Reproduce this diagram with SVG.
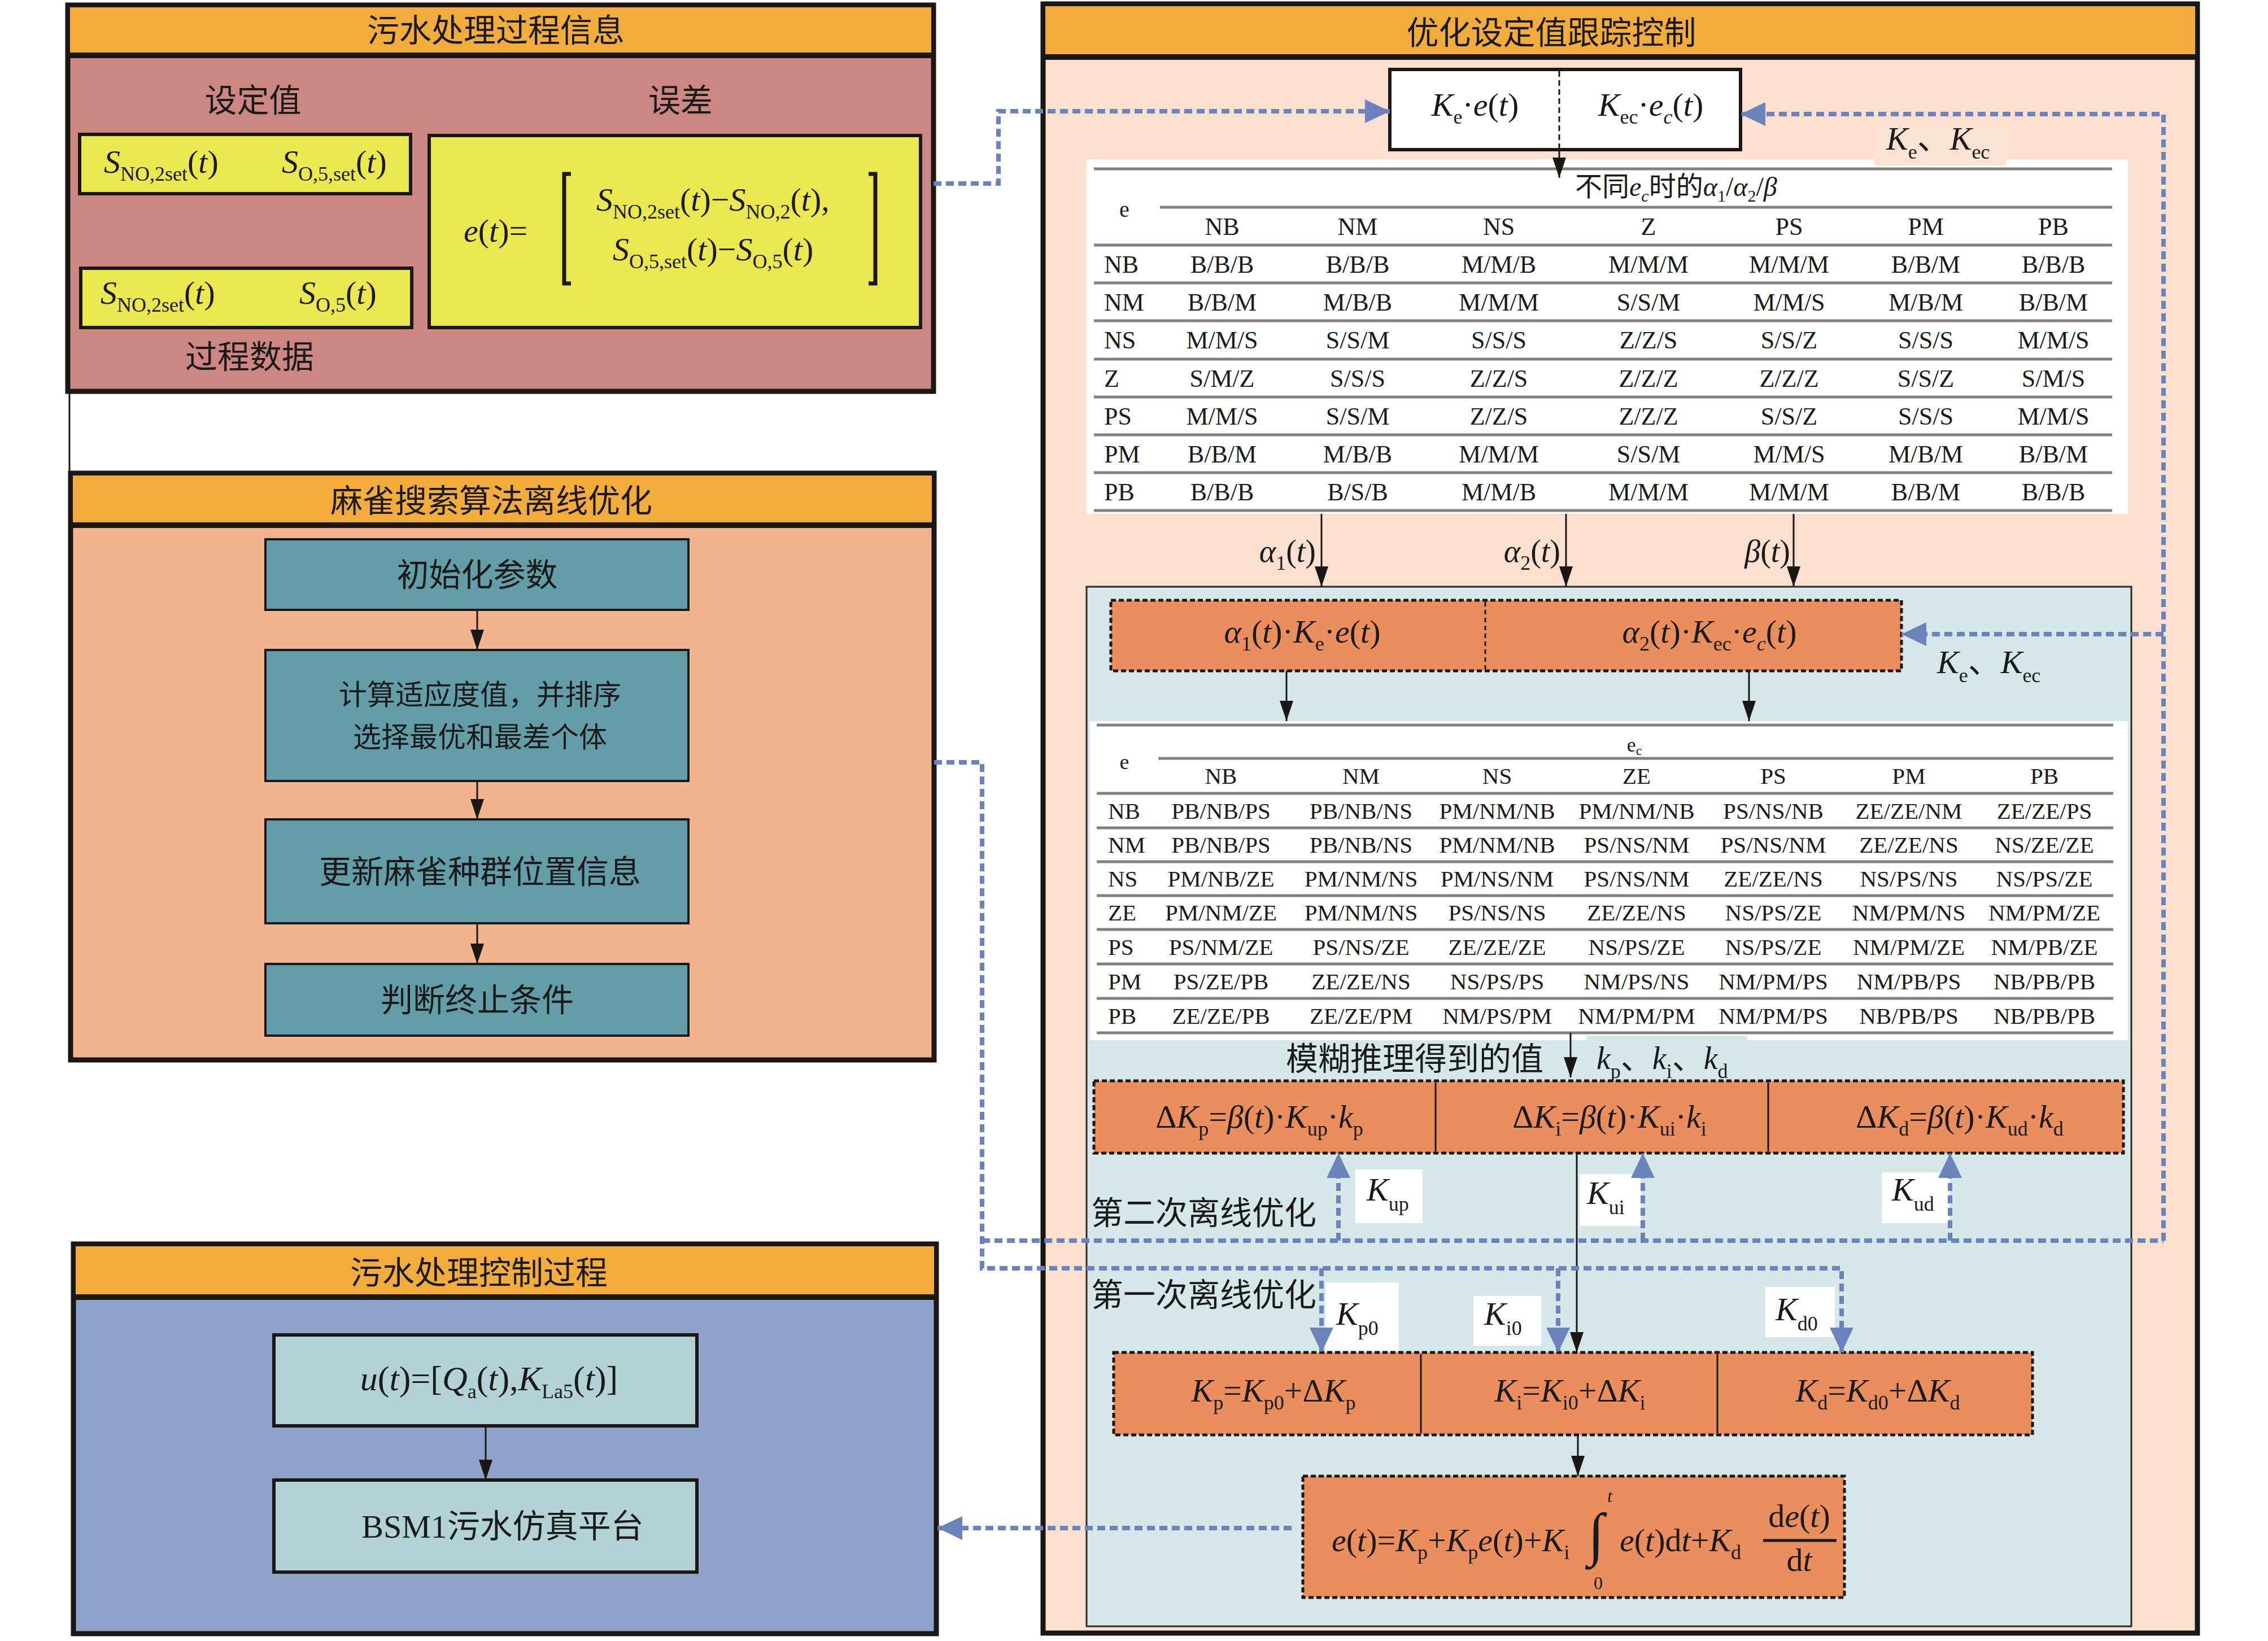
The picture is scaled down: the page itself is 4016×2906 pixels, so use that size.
<svg xmlns="http://www.w3.org/2000/svg" width="4016" height="2906" viewBox="0 0 4016 2906">
<defs>
<style>
.cn{font-family:"Noto Sans CJK SC","Noto Sans CJK JP",sans-serif;font-size:57px;fill:#1a1a1a}
.m{font-family:"Liberation Serif","Times New Roman",serif;font-size:58px;fill:#1a1a1a}
.i{font-style:italic}
.s{font-size:36px;font-style:normal}
.si{font-size:36px;font-style:italic}
.cj{font-family:"Noto Sans CJK SC","Noto Sans CJK JP",sans-serif}
.tb{font-family:"Liberation Serif","Times New Roman",serif;font-size:44px;fill:#1a1a1a;text-anchor:middle}
.tb2{font-family:"Liberation Serif","Times New Roman",serif;font-size:41px;fill:#1a1a1a;text-anchor:middle}
.rl{text-anchor:start}
.mid{text-anchor:middle}
.end{text-anchor:end}
.pan{stroke:#1a1715;stroke-width:9}
.hd{fill:#F2AC3C}
.band{stroke:#1a1715;stroke-width:10}
.yb{fill:#EBE84F;stroke:#1a1715;stroke-width:6}
.tl{fill:#629DA8;stroke:#1a1715;stroke-width:4}
.lt{fill:#B2D2D5;stroke:#1a1715;stroke-width:6}
.ob{fill:#E98E5C;stroke:#1a1715;stroke-width:5;stroke-dasharray:9 5}
.dv{stroke:#1a1715;stroke-width:3}
.gl{stroke:#857f7d;stroke-width:5}
.bl{fill:none;stroke:#6A83BD;stroke-width:8;stroke-dasharray:14 8}
.bla{marker-end:url(#bh)}
.ar{fill:none;stroke:#1a1715;stroke-width:3;marker-end:url(#ah)}
.ln{fill:none;stroke:#1a1715;stroke-width:3}
</style>
<marker id="ah" markerUnits="userSpaceOnUse" markerWidth="36" markerHeight="24" refX="36" refY="12" orient="auto" viewBox="0 0 36 24"><path d="M0,0 L36,12 L0,24 z" fill="#1a1715"/></marker>
<marker id="bh" markerUnits="userSpaceOnUse" markerWidth="44" markerHeight="42" refX="44" refY="21" orient="auto" viewBox="0 0 44 42"><path d="M0,0 L44,21 L0,42 z" fill="#6A83BD"/></marker>
</defs>
<rect x="0" y="0" width="4016" height="2906" fill="#ffffff"/>

<!-- Panel 1: process info -->
<g id="panel-info">
<rect x="120" y="9" width="1533" height="684" fill="#CD8783" class="pan"/>
<rect x="124" y="13" width="1525" height="82" class="hd"/>
<line x1="120" y1="98" x2="1653" y2="98" class="band"/>
<text x="878" y="74" class="cn mid">污水处理过程信息</text>
<text x="448" y="198" class="cn mid">设定值</text>
<text x="1205" y="198" class="cn mid">误差</text>
<text x="442" y="652" class="cn mid">过程数据</text>
</g>
<g id="setpoint">
<rect x="141" y="238" width="586" height="105" class="yb"/>
<text x="184" y="306" class="m"><tspan class="i">S</tspan><tspan class="s" dy="14">NO,2set</tspan><tspan dy="-14">(</tspan><tspan class="i">t</tspan>)</text>
<text x="499" y="306" class="m"><tspan class="i">S</tspan><tspan class="s" dy="14">O,5,set</tspan><tspan dy="-14">(</tspan><tspan class="i">t</tspan>)</text>
</g>
<g id="process-data">
<rect x="143" y="475" width="586" height="105" class="yb"/>
<text x="178" y="538" class="m"><tspan class="i">S</tspan><tspan class="s" dy="14">NO,2set</tspan><tspan dy="-14">(</tspan><tspan class="i">t</tspan>)</text>
<text x="530" y="538" class="m"><tspan class="i">S</tspan><tspan class="s" dy="14">O,5</tspan><tspan dy="-14">(</tspan><tspan class="i">t</tspan>)</text>
</g>
<g id="error">
<rect x="760" y="240" width="870" height="340" class="yb"/>
<text x="821" y="428" class="m"><tspan class="i">e</tspan>(<tspan class="i">t</tspan>)=</text>
<path d="M1011,308 H999 V502 H1011" fill="none" stroke="#1a1715" stroke-width="7"/>
<path d="M1538,308 H1550 V502 H1538" fill="none" stroke="#1a1715" stroke-width="7"/>
<text x="1056" y="373" class="m"><tspan class="i">S</tspan><tspan class="s" dy="14">NO,2set</tspan><tspan dy="-14">(</tspan><tspan class="i">t</tspan>)−<tspan class="i">S</tspan><tspan class="s" dy="14">NO,2</tspan><tspan dy="-14">(</tspan><tspan class="i">t</tspan>),</text>
<text x="1085" y="461" class="m"><tspan class="i">S</tspan><tspan class="s" dy="14">O,5,set</tspan><tspan dy="-14">(</tspan><tspan class="i">t</tspan>)−<tspan class="i">S</tspan><tspan class="s" dy="14">O,5</tspan><tspan dy="-14">(</tspan><tspan class="i">t</tspan>)</text>
</g>

<!-- Panel 2: SSA -->
<g id="panel-ssa">
<rect x="125" y="838" width="1529" height="1039" fill="#F1B48F" class="pan"/>
<rect x="129" y="842" width="1521" height="84" class="hd"/>
<line x1="125" y1="930" x2="1654" y2="930" class="band"/>
<text x="870" y="907" class="cn mid">麻雀搜索算法离线优化</text>
</g>
<g id="ssa-init">
<rect x="470" y="955" width="749" height="125" class="tl"/>
<text x="845" y="1038" class="cn mid">初始化参数</text>
</g>
<g id="ssa-fitness">
<rect x="470" y="1151" width="749" height="232" class="tl"/>
<text x="850" y="1248" class="cn mid" style="font-size:50px">计算适应度值，并排序</text>
<text x="850" y="1323" class="cn mid" style="font-size:50px">选择最优和最差个体</text>
</g>
<g id="ssa-update">
<rect x="470" y="1451" width="749" height="184" class="tl"/>
<text x="850" y="1564" class="cn mid">更新麻雀种群位置信息</text>
</g>
<g id="ssa-stop">
<rect x="470" y="1707" width="749" height="127" class="tl"/>
<text x="845" y="1791" class="cn mid">判断终止条件</text>
</g>

<!-- Panel 3: control process -->
<g id="panel-control">
<rect x="130" y="2203" width="1528" height="690" fill="#8FA2C9" class="pan"/>
<rect x="134" y="2207" width="1520" height="85" class="hd"/>
<line x1="130" y1="2297" x2="1658" y2="2297" class="band"/>
<text x="848" y="2274" class="cn mid">污水处理控制过程</text>
</g>
<g id="control-u">
<rect x="485" y="2364" width="749" height="161" class="lt"/>
<text x="866" y="2462" class="m mid" style="font-size:62px"><tspan class="i">u</tspan>(<tspan class="i">t</tspan>)=[<tspan class="i">Q</tspan><tspan class="s" dy="14">a</tspan><tspan dy="-14">(</tspan><tspan class="i">t</tspan>),<tspan class="i">K</tspan><tspan class="s" dy="14">La5</tspan><tspan dy="-14">(</tspan><tspan class="i">t</tspan>)]</text>
</g>
<g id="bsm1">
<rect x="485" y="2621" width="749" height="163" class="lt"/>
<text x="890" y="2723" class="m mid" style="font-size:58px">BSM1<tspan class="cj">污水仿真平台</tspan></text>
</g>

<!-- Panel 4: tracking control -->
<g id="panel-tracking">
<rect x="1847" y="7" width="2044" height="2885" fill="#FBE0CF" class="pan"/>
<rect x="1851" y="11" width="2036" height="85" class="hd"/>
<line x1="1847" y1="101" x2="3891" y2="101" class="band"/>
<text x="2747" y="78" class="cn mid">优化设定值跟踪控制</text>
</g>

<g id="rule-table-1">
<rect x="1924" y="282" width="1844" height="628" fill="#ffffff"/>
<rect x="3319" y="225" width="233" height="68" fill="#FBE2D3"/>
<line x1="1937" y1="299" x2="3740" y2="299" class="gl"/>
<line x1="2054" y1="367" x2="3740" y2="367" class="gl"/>
<line x1="1937" y1="434" x2="3740" y2="434" class="gl"/>
<line x1="1937" y1="501" x2="3740" y2="501" class="gl"/>
<line x1="1937" y1="568" x2="3740" y2="568" class="gl"/>
<line x1="1937" y1="636" x2="3740" y2="636" class="gl"/>
<line x1="1937" y1="703" x2="3740" y2="703" class="gl"/>
<line x1="1937" y1="770" x2="3740" y2="770" class="gl"/>
<line x1="1937" y1="837" x2="3740" y2="837" class="gl"/>
<line x1="1937" y1="904" x2="3740" y2="904" class="gl"/>
<text x="2789" y="347" class="m" style="font-size:48px"><tspan class="cj">不同</tspan><tspan class="i">e</tspan><tspan class="si" style="font-size:30px" dy="10">c</tspan><tspan class="cj" dy="-10">时的</tspan><tspan class="i">α</tspan><tspan style="font-size:30px" dy="10">1</tspan><tspan dy="-10">/</tspan><tspan class="i">α</tspan><tspan style="font-size:30px" dy="10">2</tspan><tspan dy="-10">/</tspan><tspan class="i">β</tspan></text>
<text x="1991" y="384" class="tb" style="font-size:40px">e</text>
<text y="416" class="tb"><tspan x="2164">NB</tspan><tspan x="2404">NM</tspan><tspan x="2654">NS</tspan><tspan x="2919">Z</tspan><tspan x="3168">PS</tspan><tspan x="3410">PM</tspan><tspan x="3636">PB</tspan></text>
<text y="483" class="tb"><tspan x="1955" class="rl">NB</tspan><tspan x="2164">B/B/B</tspan><tspan x="2404">B/B/B</tspan><tspan x="2654">M/M/B</tspan><tspan x="2919">M/M/M</tspan><tspan x="3168">M/M/M</tspan><tspan x="3410">B/B/M</tspan><tspan x="3636">B/B/B</tspan></text>
<text y="550" class="tb"><tspan x="1955" class="rl">NM</tspan><tspan x="2164">B/B/M</tspan><tspan x="2404">M/B/B</tspan><tspan x="2654">M/M/M</tspan><tspan x="2919">S/S/M</tspan><tspan x="3168">M/M/S</tspan><tspan x="3410">M/B/M</tspan><tspan x="3636">B/B/M</tspan></text>
<text y="617" class="tb"><tspan x="1955" class="rl">NS</tspan><tspan x="2164">M/M/S</tspan><tspan x="2404">S/S/M</tspan><tspan x="2654">S/S/S</tspan><tspan x="2919">Z/Z/S</tspan><tspan x="3168">S/S/Z</tspan><tspan x="3410">S/S/S</tspan><tspan x="3636">M/M/S</tspan></text>
<text y="685" class="tb"><tspan x="1955" class="rl">Z</tspan><tspan x="2164">S/M/Z</tspan><tspan x="2404">S/S/S</tspan><tspan x="2654">Z/Z/S</tspan><tspan x="2919">Z/Z/Z</tspan><tspan x="3168">Z/Z/Z</tspan><tspan x="3410">S/S/Z</tspan><tspan x="3636">S/M/S</tspan></text>
<text y="752" class="tb"><tspan x="1955" class="rl">PS</tspan><tspan x="2164">M/M/S</tspan><tspan x="2404">S/S/M</tspan><tspan x="2654">Z/Z/S</tspan><tspan x="2919">Z/Z/Z</tspan><tspan x="3168">S/S/Z</tspan><tspan x="3410">S/S/S</tspan><tspan x="3636">M/M/S</tspan></text>
<text y="819" class="tb"><tspan x="1955" class="rl">PM</tspan><tspan x="2164">B/B/M</tspan><tspan x="2404">M/B/B</tspan><tspan x="2654">M/M/M</tspan><tspan x="2919">S/S/M</tspan><tspan x="3168">M/M/S</tspan><tspan x="3410">M/B/M</tspan><tspan x="3636">B/B/M</tspan></text>
<text y="886" class="tb"><tspan x="1955" class="rl">PB</tspan><tspan x="2164">B/B/B</tspan><tspan x="2404">B/S/B</tspan><tspan x="2654">M/M/B</tspan><tspan x="2919">M/M/M</tspan><tspan x="3168">M/M/M</tspan><tspan x="3410">B/B/M</tspan><tspan x="3636">B/B/B</tspan></text>
</g>

<g id="gain-box">
<rect x="2461" y="123" width="621" height="142" fill="#ffffff" stroke="#1a1715" stroke-width="6"/>
<line x1="2761" y1="126" x2="2761" y2="262" stroke="#1a1715" stroke-width="3" stroke-dasharray="10 6"/>
<text x="2612" y="205" class="m mid"><tspan class="i">K</tspan><tspan class="s" dy="14">e</tspan><tspan dy="-14">·</tspan><tspan class="i">e</tspan>(<tspan class="i">t</tspan>)</text>
<text x="2923" y="205" class="m mid"><tspan class="i">K</tspan><tspan class="s" dy="14">ec</tspan><tspan dy="-14">·</tspan><tspan class="i">e</tspan><tspan class="si" dy="14">c</tspan><tspan dy="-14">(</tspan><tspan class="i">t</tspan>)</text>
</g>
<g id="label-ke-top">
<text x="3340" y="265" class="m"><tspan class="i">K</tspan><tspan class="s" dy="16">e</tspan><tspan class="cj" dy="-16">、</tspan><tspan class="i">K</tspan><tspan class="s" dy="16">ec</tspan></text>
</g>
<g id="label-alpha">
<text x="2330" y="995" class="m end" style="font-size:56px"><tspan class="i">α</tspan><tspan class="s" dy="14">1</tspan><tspan dy="-14">(</tspan><tspan class="i">t</tspan>)</text>
<text x="2763" y="995" class="m end" style="font-size:56px"><tspan class="i">α</tspan><tspan class="s" dy="14">2</tspan><tspan dy="-14">(</tspan><tspan class="i">t</tspan>)</text>
<text x="3170" y="995" class="m end" style="font-size:56px"><tspan class="i">β</tspan>(<tspan class="i">t</tspan>)</text>
</g>

<g id="fuzzy-pid">
<rect x="1924" y="1039" width="1850" height="1841" fill="#D6E7E9" stroke="#2a2a2a" stroke-width="3"/>
</g>

<g id="scaled-errors">
<rect x="1967" y="1063" width="1400" height="125" class="ob"/>
<line x1="2630" y1="1066" x2="2630" y2="1185" stroke="#1a1715" stroke-width="3" stroke-dasharray="8 6"/>
<text x="2306" y="1138" class="m mid"><tspan class="i">α</tspan><tspan class="s" dy="14">1</tspan><tspan dy="-14">(</tspan><tspan class="i">t</tspan>)·<tspan class="i">K</tspan><tspan class="s" dy="14">e</tspan><tspan dy="-14">·</tspan><tspan class="i">e</tspan>(<tspan class="i">t</tspan>)</text>
<text x="3027" y="1138" class="m mid"><tspan class="i">α</tspan><tspan class="s" dy="14">2</tspan><tspan dy="-14">(</tspan><tspan class="i">t</tspan>)·<tspan class="i">K</tspan><tspan class="s" dy="14">ec</tspan><tspan dy="-14">·</tspan><tspan class="i">e</tspan><tspan class="si" dy="14">c</tspan><tspan dy="-14">(</tspan><tspan class="i">t</tspan>)</text>
</g>
<g id="label-ke-mid">
<text x="3430" y="1192" class="m"><tspan class="i">K</tspan><tspan class="s" dy="16">e</tspan><tspan class="cj" dy="-16">、</tspan><tspan class="i">K</tspan><tspan class="s" dy="16">ec</tspan></text>
</g>

<g id="rule-table-2">
<rect x="1930" y="1277" width="1838" height="565" fill="#ffffff"/>
<line x1="1942" y1="1284" x2="3742" y2="1284" class="gl"/>
<line x1="2051" y1="1343" x2="3742" y2="1343" class="gl"/>
<line x1="1942" y1="1405" x2="3742" y2="1405" class="gl"/>
<line x1="1942" y1="1466" x2="3742" y2="1466" class="gl"/>
<line x1="1942" y1="1526" x2="3742" y2="1526" class="gl"/>
<line x1="1942" y1="1586" x2="3742" y2="1586" class="gl"/>
<line x1="1942" y1="1646" x2="3742" y2="1646" class="gl"/>
<line x1="1942" y1="1707" x2="3742" y2="1707" class="gl"/>
<line x1="1942" y1="1768" x2="3742" y2="1768" class="gl"/>
<line x1="1942" y1="1829" x2="3742" y2="1829" class="gl"/>
<text x="2894" y="1331" class="tb2" style="font-size:36px">e<tspan style="font-size:24px" dy="6">c</tspan></text>
<text x="1991" y="1362" class="tb2" style="font-size:38px">e</text>
<text y="1388" class="tb2"><tspan x="2162">NB</tspan><tspan x="2410">NM</tspan><tspan x="2651">NS</tspan><tspan x="2898">ZE</tspan><tspan x="3140">PS</tspan><tspan x="3380">PM</tspan><tspan x="3620">PB</tspan></text>
<text y="1450" class="tb2"><tspan x="1962" class="rl">NB</tspan><tspan x="2162">PB/NB/PS</tspan><tspan x="2410">PB/NB/NS</tspan><tspan x="2651">PM/NM/NB</tspan><tspan x="2898">PM/NM/NB</tspan><tspan x="3140">PS/NS/NB</tspan><tspan x="3380">ZE/ZE/NM</tspan><tspan x="3620">ZE/ZE/PS</tspan></text>
<text y="1510" class="tb2"><tspan x="1962" class="rl">NM</tspan><tspan x="2162">PB/NB/PS</tspan><tspan x="2410">PB/NB/NS</tspan><tspan x="2651">PM/NM/NB</tspan><tspan x="2898">PS/NS/NM</tspan><tspan x="3140">PS/NS/NM</tspan><tspan x="3380">ZE/ZE/NS</tspan><tspan x="3620">NS/ZE/ZE</tspan></text>
<text y="1570" class="tb2"><tspan x="1962" class="rl">NS</tspan><tspan x="2162">PM/NB/ZE</tspan><tspan x="2410">PM/NM/NS</tspan><tspan x="2651">PM/NS/NM</tspan><tspan x="2898">PS/NS/NM</tspan><tspan x="3140">ZE/ZE/NS</tspan><tspan x="3380">NS/PS/NS</tspan><tspan x="3620">NS/PS/ZE</tspan></text>
<text y="1630" class="tb2"><tspan x="1962" class="rl">ZE</tspan><tspan x="2162">PM/NM/ZE</tspan><tspan x="2410">PM/NM/NS</tspan><tspan x="2651">PS/NS/NS</tspan><tspan x="2898">ZE/ZE/NS</tspan><tspan x="3140">NS/PS/ZE</tspan><tspan x="3380">NM/PM/NS</tspan><tspan x="3620">NM/PM/ZE</tspan></text>
<text y="1691" class="tb2"><tspan x="1962" class="rl">PS</tspan><tspan x="2162">PS/NM/ZE</tspan><tspan x="2410">PS/NS/ZE</tspan><tspan x="2651">ZE/ZE/ZE</tspan><tspan x="2898">NS/PS/ZE</tspan><tspan x="3140">NS/PS/ZE</tspan><tspan x="3380">NM/PM/ZE</tspan><tspan x="3620">NM/PB/ZE</tspan></text>
<text y="1752" class="tb2"><tspan x="1962" class="rl">PM</tspan><tspan x="2162">PS/ZE/PB</tspan><tspan x="2410">ZE/ZE/NS</tspan><tspan x="2651">NS/PS/PS</tspan><tspan x="2898">NM/PS/NS</tspan><tspan x="3140">NM/PM/PS</tspan><tspan x="3380">NM/PB/PS</tspan><tspan x="3620">NB/PB/PB</tspan></text>
<text y="1813" class="tb2"><tspan x="1962" class="rl">PB</tspan><tspan x="2162">ZE/ZE/PB</tspan><tspan x="2410">ZE/ZE/PM</tspan><tspan x="2651">NM/PS/PM</tspan><tspan x="2898">NM/PM/PM</tspan><tspan x="3140">NM/PM/PS</tspan><tspan x="3380">NB/PB/PS</tspan><tspan x="3620">NB/PB/PB</tspan></text>
</g>

<g id="label-fuzzy">
<text x="2277" y="1895" class="cn">模糊推理得到的值</text>
<rect x="2809" y="1834" width="285" height="76" fill="#D6E7E9"/>
<text x="2827" y="1893" class="m" style="font-size:56px"><tspan class="i">k</tspan><tspan class="s" dy="16">p</tspan><tspan class="cj" dy="-16">、</tspan><tspan class="i">k</tspan><tspan class="s" dy="16">i</tspan><tspan class="cj" dy="-16">、</tspan><tspan class="i">k</tspan><tspan class="s" dy="16">d</tspan></text>
</g>

<g id="delta-gains">
<rect x="1937" y="1914" width="1823" height="128" class="ob"/>
<line x1="2542" y1="1917" x2="2542" y2="2039" class="dv"/>
<line x1="3131" y1="1917" x2="3131" y2="2039" class="dv"/>
<text x="2230" y="1997" class="m mid">Δ<tspan class="i">K</tspan><tspan class="s" dy="14">p</tspan><tspan dy="-14">=</tspan><tspan class="i">β</tspan>(<tspan class="i">t</tspan>)·<tspan class="i">K</tspan><tspan class="s" dy="14">up</tspan><tspan dy="-14">·</tspan><tspan class="i">k</tspan><tspan class="s" dy="14">p</tspan></text>
<text x="2850" y="1997" class="m mid">Δ<tspan class="i">K</tspan><tspan class="s" dy="14">i</tspan><tspan dy="-14">=</tspan><tspan class="i">β</tspan>(<tspan class="i">t</tspan>)·<tspan class="i">K</tspan><tspan class="s" dy="14">ui</tspan><tspan dy="-14">·</tspan><tspan class="i">k</tspan><tspan class="s" dy="14">i</tspan></text>
<text x="3470" y="1997" class="m mid">Δ<tspan class="i">K</tspan><tspan class="s" dy="14">d</tspan><tspan dy="-14">=</tspan><tspan class="i">β</tspan>(<tspan class="i">t</tspan>)·<tspan class="i">K</tspan><tspan class="s" dy="14">ud</tspan><tspan dy="-14">·</tspan><tspan class="i">k</tspan><tspan class="s" dy="14">d</tspan></text>
</g>

<g id="label-offline">
<text x="1932" y="2168" class="cn">第二次离线优化</text>
<text x="1932" y="2313" class="cn">第一次离线优化</text>
</g>

<g id="label-kup">
<rect x="2400" y="2071" width="119" height="95" fill="#ffffff"/>
<text x="2420" y="2126" class="m"><tspan class="i">K</tspan><tspan class="s" dy="18">up</tspan></text>
</g>
<g id="label-kui">
<rect x="2797" y="2079" width="109" height="92" fill="#ffffff"/>
<text x="2810" y="2132" class="m"><tspan class="i">K</tspan><tspan class="s" dy="18">ui</tspan></text>
</g>
<g id="label-kud">
<rect x="3332" y="2076" width="120" height="90" fill="#ffffff"/>
<text x="3350" y="2126" class="m"><tspan class="i">K</tspan><tspan class="s" dy="18">ud</tspan></text>
</g>
<g id="label-kp0">
<rect x="2347" y="2271" width="130" height="121" fill="#ffffff"/>
<text x="2366" y="2346" class="m"><tspan class="i">K</tspan><tspan class="s" dy="18">p0</tspan></text>
</g>
<g id="label-ki0">
<rect x="2609" y="2295" width="120" height="88" fill="#ffffff"/>
<text x="2628" y="2346" class="m"><tspan class="i">K</tspan><tspan class="s" dy="18">i0</tspan></text>
</g>
<g id="label-kd0">
<rect x="3126" y="2279" width="123" height="89" fill="#ffffff"/>
<text x="3144" y="2338" class="m"><tspan class="i">K</tspan><tspan class="s" dy="18">d0</tspan></text>
</g>

<g id="pid-gains">
<rect x="1972" y="2395" width="1627" height="146" class="ob"/>
<line x1="2516" y1="2398" x2="2516" y2="2538" class="dv"/>
<line x1="3041" y1="2398" x2="3041" y2="2538" class="dv"/>
<text x="2255" y="2482" class="m mid"><tspan class="i">K</tspan><tspan class="s" dy="14">p</tspan><tspan dy="-14">=</tspan><tspan class="i">K</tspan><tspan class="s" dy="14">p0</tspan><tspan dy="-14">+Δ</tspan><tspan class="i">K</tspan><tspan class="s" dy="14">p</tspan></text>
<text x="2780" y="2482" class="m mid"><tspan class="i">K</tspan><tspan class="s" dy="14">i</tspan><tspan dy="-14">=</tspan><tspan class="i">K</tspan><tspan class="s" dy="14">i0</tspan><tspan dy="-14">+Δ</tspan><tspan class="i">K</tspan><tspan class="s" dy="14">i</tspan></text>
<text x="3325" y="2482" class="m mid"><tspan class="i">K</tspan><tspan class="s" dy="14">d</tspan><tspan dy="-14">=</tspan><tspan class="i">K</tspan><tspan class="s" dy="14">d0</tspan><tspan dy="-14">+Δ</tspan><tspan class="i">K</tspan><tspan class="s" dy="14">d</tspan></text>
</g>

<g id="pid-law">
<rect x="2307" y="2614" width="959" height="215" class="ob"/>
<text x="2358" y="2747" class="m"><tspan class="i">e</tspan>(<tspan class="i">t</tspan>)=<tspan class="i">K</tspan><tspan class="s" dy="14">p</tspan><tspan dy="-14">+</tspan><tspan class="i">K</tspan><tspan class="s" dy="14">p</tspan><tspan class="i" dy="-14">e</tspan>(<tspan class="i">t</tspan>)+<tspan class="i">K</tspan><tspan class="s" dy="14">i</tspan></text>
<text x="2812" y="2752" class="m i" style="font-size:104px">∫</text>
<text x="2846" y="2660" class="m i" style="font-size:32px">t</text>
<text x="2822" y="2814" class="m" style="font-size:32px">0</text>
<text x="2868" y="2747" class="m"><tspan class="i">e</tspan>(<tspan class="i">t</tspan>)d<tspan class="i">t</tspan>+<tspan class="i">K</tspan><tspan class="s" dy="14">d</tspan></text>
<text x="3186" y="2704" class="m mid">d<tspan class="i">e</tspan>(<tspan class="i">t</tspan>)</text>
<line x1="3122" y1="2728" x2="3252" y2="2728" stroke="#1a1715" stroke-width="5"/>
<text x="3186" y="2782" class="m mid">d<tspan class="i">t</tspan></text>
</g>

<g id="connectors">
<path d="M123,697 V838" class="ln"/>
<path d="M845,1080 V1151" class="ar"/>
<path d="M845,1383 V1451" class="ar"/>
<path d="M845,1635 V1707" class="ar"/>
<path d="M860,2525 V2621" class="ar"/>
<path d="M2761,265 V315" class="ar"/>
<path d="M2340,910 V1039" class="ar"/>
<path d="M2773,910 V1039" class="ar"/>
<path d="M3176,910 V1039" class="ar"/>
<path d="M2278,1188 V1277" class="ar"/>
<path d="M3097,1188 V1277" class="ar"/>
<path d="M2781,1829 V1908" class="ar"/>
<path d="M2792,2042 V2395" class="ar"/>
<path d="M2794,2541 V2614" class="ar"/>

<path d="M1653,325 H1768 V197 H2461" class="bl bla"/>
<path d="M3831,2197 V202 H3082" class="bl bla"/>
<path d="M3831,1123 H3367" class="bl bla"/>
<path d="M1654,1350 H1739 V2246 H3261 V2395" class="bl bla"/>
<path d="M1739,2197 H3831" class="bl"/>
<path d="M2370,2197 V2042" class="bl bla"/>
<path d="M2909,2197 V2042" class="bl bla"/>
<path d="M3453,2197 V2042" class="bl bla"/>
<path d="M2340,2246 V2395" class="bl bla"/>
<path d="M2759,2246 V2395" class="bl bla"/>
<path d="M2287,2706 H1660" class="bl bla"/>
</g>
</svg>
